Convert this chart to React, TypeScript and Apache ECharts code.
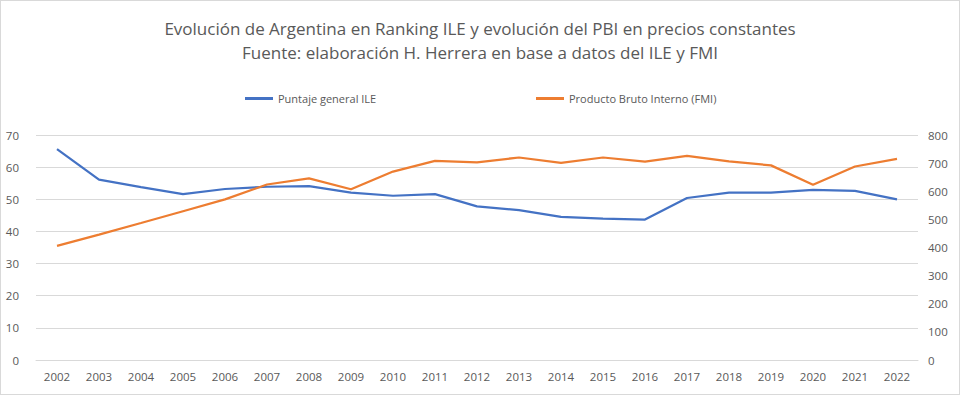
import React, { useEffect, useRef } from "react";
import * as echarts from "echarts";

const years = ["2002","2003","2004","2005","2006","2007","2008","2009","2010","2011","2012","2013","2014","2015","2016","2017","2018","2019","2020","2021","2022"];
const ileScore = [65.6, 56.1, 53.8, 51.6, 53.2, 53.9, 54.1, 52.1, 51.1, 51.6, 47.8, 46.6, 44.5, 44.0, 43.7, 50.4, 52.1, 52.1, 52.9, 52.6, 50.0];
const pbi = [406, 446, 487, 529, 571, 624, 646, 607, 670, 708, 703, 720, 701, 720, 705, 726, 706, 692, 623, 688, 715];
const leftTicks = [0, 70, 10];
const rightTicks = [0, 800, 100];

const FONT = "'Open Sans', 'Liberation Sans', sans-serif";
const TXT = "#595959";

export default function App() {
  const ref = useRef<HTMLDivElement>(null);
  useEffect(() => {
    if (!ref.current) return;
    const chart = echarts.init(ref.current, null, { renderer: "svg" });
    chart.setOption({
      animation: false,
      backgroundColor: "#ffffff",
      title: {
        text: "Evolución de Argentina en Ranking ILE y evolución del PBI en precios constantes\nFuente: elaboración H. Herrera en base a datos del ILE y FMI",
        left: "center",
        top: 10,
        textStyle: { fontFamily: FONT, fontSize: 17, fontWeight: "normal", color: TXT, lineHeight: 24 },
      },
      legend: [
        {
          data: ["Puntaje general ILE"],
          left: 244, top: 92, padding: 0,
          icon: "rect", itemWidth: 28, itemHeight: 3,
          textStyle: { fontFamily: FONT, fontSize: 11, color: TXT },
        },
        {
          data: ["Producto Bruto Interno (FMI)"],
          left: 535, top: 92, padding: 0,
          icon: "rect", itemWidth: 28, itemHeight: 3,
          textStyle: { fontFamily: FONT, fontSize: 11, color: TXT },
        },
      ],
      grid: { left: 35, right: 41, top: 134, bottom: 34, containLabel: false },
      xAxis: {
        type: "category",
        data: years,
        boundaryGap: true,
        axisLine: { lineStyle: { color: "#d9d9d9" } },
        axisTick: { show: false },
        axisLabel: { color: TXT, fontFamily: FONT, fontSize: 11.5, margin: 10 },
      },
      yAxis: [
        {
          type: "value",
          min: leftTicks[0], max: leftTicks[1], interval: leftTicks[2],
          axisLine: { show: false },
          axisTick: { show: false },
          splitLine: { lineStyle: { color: "#d9d9d9" } },
          axisLabel: { color: TXT, fontFamily: FONT, fontSize: 11.5, margin: 17 },
        },
        {
          type: "value",
          min: rightTicks[0], max: rightTicks[1], interval: rightTicks[2],
          axisLine: { show: false },
          axisTick: { show: false },
          splitLine: { show: false },
          axisLabel: { color: TXT, fontFamily: FONT, fontSize: 11.5, margin: 10 },
        },
      ],
      series: [
        {
          name: "Puntaje general ILE",
          type: "line",
          data: ileScore,
          yAxisIndex: 0,
          symbol: "none",
          lineStyle: { color: "#4472c4", width: 2.25 },
          itemStyle: { color: "#4472c4" },
        },
        {
          name: "Producto Bruto Interno (FMI)",
          type: "line",
          data: pbi,
          yAxisIndex: 1,
          symbol: "none",
          lineStyle: { color: "#ed7d31", width: 2.25 },
          itemStyle: { color: "#ed7d31" },
        },
      ],
    });
    return () => chart.dispose();
  }, []);
  return (
    <div
      ref={ref}
      style={{ position: "fixed", left: 0, top: 0, width: 960, height: 395, boxSizing: "border-box", border: "1px solid #d9d9d9" }}
    />
  );
}
